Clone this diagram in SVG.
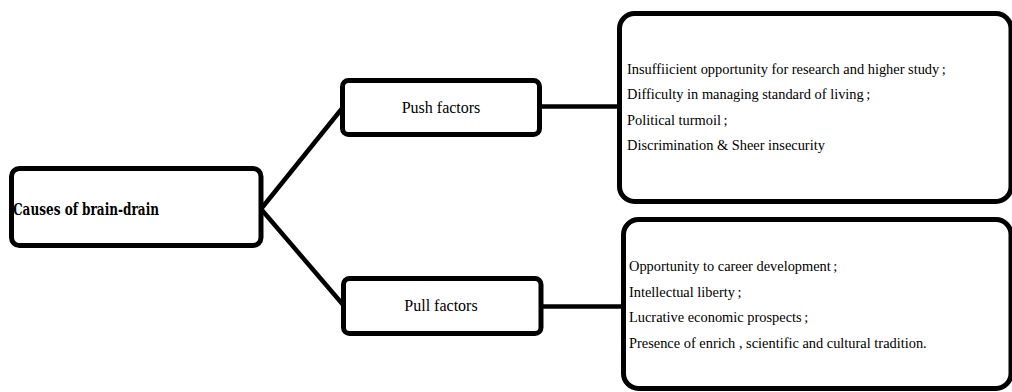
<svg xmlns="http://www.w3.org/2000/svg" width="1012" height="392" viewBox="0 0 1012 392">
<style>
.box{fill:#fff;stroke:#000;stroke-width:5}
.conn{fill:none;stroke:#000;stroke-width:4.5;stroke-linecap:butt}
.lbl{font-family:'Liberation Serif','Times New Roman',Times,serif;font-size:16px;fill:#000}
.item{font-family:'Liberation Serif','Times New Roman',Times,serif;font-size:14.4px;fill:#000}
.root{font-family:'DejaVu Serif','Liberation Serif',serif;font-weight:bold;font-size:16px;fill:#000}
</style>
<rect width="1012" height="392" fill="#fff"/>
<g id="connectors">
<line class="conn" x1="261" y1="209" x2="344" y2="106"/>
<line class="conn" x1="261" y1="209" x2="345" y2="307"/>
<line class="conn" x1="539" y1="106.5" x2="620" y2="106.5"/>
<line class="conn" x1="541" y1="306.5" x2="624" y2="306.5"/>
</g>
<g id="causes">
<rect class="box" x="11.5" y="168.5" width="249.5" height="77" rx="8"/>
<text class="root" x="13" y="215" textLength="146" lengthAdjust="spacingAndGlyphs">Causes of brain-drain</text>
</g>
<g id="push">
<rect class="box" x="342.5" y="80.5" width="197" height="54" rx="6"/>
<text class="lbl" x="441" y="113" text-anchor="middle">Push factors</text>
</g>
<g id="pull">
<rect class="box" x="343.5" y="278.5" width="197.5" height="55" rx="6"/>
<text class="lbl" x="441" y="311" text-anchor="middle">Pull factors</text>
</g>
<g id="push-details">
<rect class="box" x="619.5" y="13.5" width="391.5" height="188" rx="15"/>
<text class="item" x="627" y="74">Insuffiicient opportunity for research and higher study<tspan dx="2.5">;</tspan></text>
<text class="item" x="627" y="99">Difficulty in managing standard of living<tspan dx="2.5">;</tspan></text>
<text class="item" x="627" y="124.5">Political turmoil<tspan dx="2.5">;</tspan></text>
<text class="item" x="627" y="150">Discrimination &amp; Sheer insecurity</text>
</g>
<g id="pull-details">
<rect class="box" x="623.5" y="219.5" width="387.5" height="169" rx="15"/>
<text class="item" x="629" y="271">Opportunity to career development<tspan dx="2.5">;</tspan></text>
<text class="item" x="629" y="296.5">Intellectual liberty<tspan dx="2.5">;</tspan></text>
<text class="item" x="629" y="322">Lucrative economic prospects<tspan dx="2.5">;</tspan></text>
<text class="item" x="629" y="347.5">Presence of enrich , scientific and cultural tradition.</text>
</g>
</svg>
